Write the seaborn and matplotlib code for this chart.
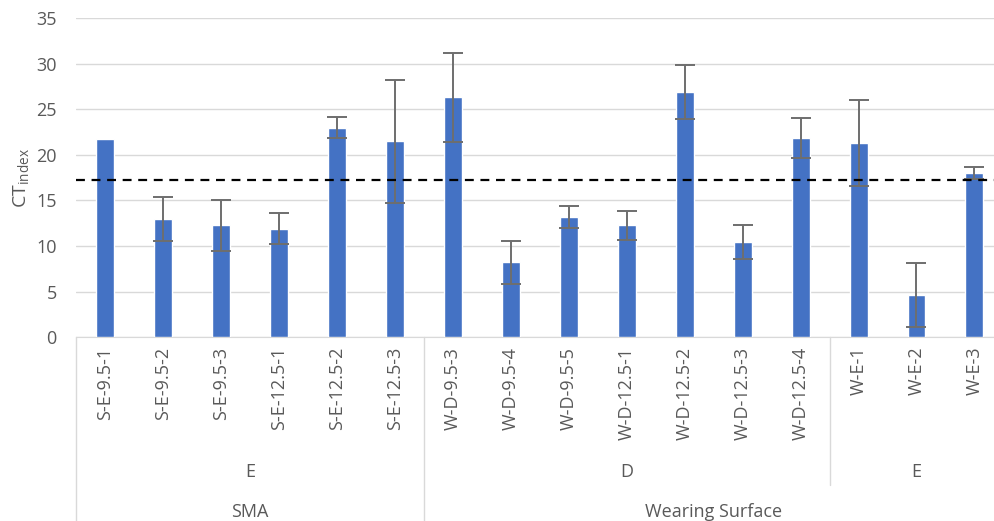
import numpy as np
import pandas as pd
import matplotlib
matplotlib.use('Agg')
import matplotlib.pyplot as plt
import matplotlib.transforms as mtransforms
import seaborn as sns

# data
samples = ['S-E-9.5-1', 'S-E-9.5-2', 'S-E-9.5-3', 'S-E-12.5-1', 'S-E-12.5-2', 'S-E-12.5-3',
           'W-D-9.5-3', 'W-D-9.5-4', 'W-D-9.5-5', 'W-D-12.5-1', 'W-D-12.5-2', 'W-D-12.5-3',
           'W-D-12.5-4', 'W-E-1', 'W-E-2', 'W-E-3']
ct_index = [21.7, 13.0, 12.25, 11.9, 23.0, 21.5,
            26.3, 8.2, 13.2, 12.25, 26.9, 10.4,
            21.9, 21.3, 4.65, 18.0]
ct_err = [np.nan, 2.4, 2.75, 1.7, 1.2, 6.75,
          4.9, 2.35, 1.2, 1.6, 3.0, 1.85,
          2.2, 4.7, 3.5, 0.7]
threshold = 17.2

mix_groups = ['E', 'D', 'E']
mix_sizes = [6, 7, 3]
layer_groups = ['SMA', 'Wearing Surface']
layer_sizes = [6, 10]

df = pd.DataFrame({'sample': samples, 'ct': ct_index, 'err': ct_err})

sns.set_style('white')
plt.rcParams['font.family'] = ['Open Sans', 'DejaVu Sans']
label_col = '#595959'
fs = 13

fig = plt.figure(figsize=(9.94, 5.21), dpi=100)
ax = fig.add_axes([0.0765, 0.353, 0.933, 0.612])

sns.barplot(data=df, x='sample', y='ct', color='#4472C4', width=0.31,
            saturation=1, errorbar=None, ax=ax, zorder=3)

has_err = df['err'].notna()
xpos = np.arange(len(df))
ax.errorbar(xpos[has_err], df['ct'][has_err], yerr=df['err'][has_err], fmt='none',
            ecolor='#6e6e6e', elinewidth=1.4, capsize=7, capthick=1.4, zorder=4)

ax.axhline(threshold, color='black', lw=1.6, ls=(0, (4, 3)), zorder=5)

ax.set_ylim(0, 35)
ax.set_yticks(range(0, 36, 5))
ax.set_xlim(-0.5, len(df) - 0.5)
ax.yaxis.grid(True, color='#d9d9d9', lw=1, zorder=0)
for s in ['top', 'right', 'left']:
    ax.spines[s].set_visible(False)
ax.spines['bottom'].set_color('#d9d9d9')
ax.tick_params(axis='y', length=0, labelsize=fs, labelcolor=label_col, pad=14)
ax.tick_params(axis='x', length=0, labelsize=fs, labelcolor=label_col, pad=7)
ax.set_xticks(xpos)
ax.set_xticklabels(samples, rotation=90, va='top', ha='center')
ax.set_xlabel('')
ax.set_ylabel(r'CT$_{\mathregular{index}}$', fontsize=14, color=label_col, labelpad=3)

trans = mtransforms.blended_transform_factory(ax.transData, ax.transAxes)

# group separators below the axis
edges = np.cumsum([0] + mix_sizes) - 0.5
layer_edges = np.cumsum([0] + layer_sizes) - 0.5
for e in edges[:-1]:
    bottom = -0.58 if e in layer_edges else -0.464
    ax.plot([e, e], [0, bottom], transform=trans, color='#d9d9d9', lw=1, clip_on=False)

for name, lo, hi in zip(mix_groups, edges[:-1], edges[1:]):
    ax.text((lo + hi) / 2, -0.424, name, transform=trans, ha='center', va='center',
            fontsize=fs, color=label_col)
for name, lo, hi in zip(layer_groups, layer_edges[:-1], layer_edges[1:]):
    ax.text((lo + hi) / 2, -0.549, name, transform=trans, ha='center', va='center',
            fontsize=fs, color=label_col)

fig.savefig('out.png', dpi=100)
